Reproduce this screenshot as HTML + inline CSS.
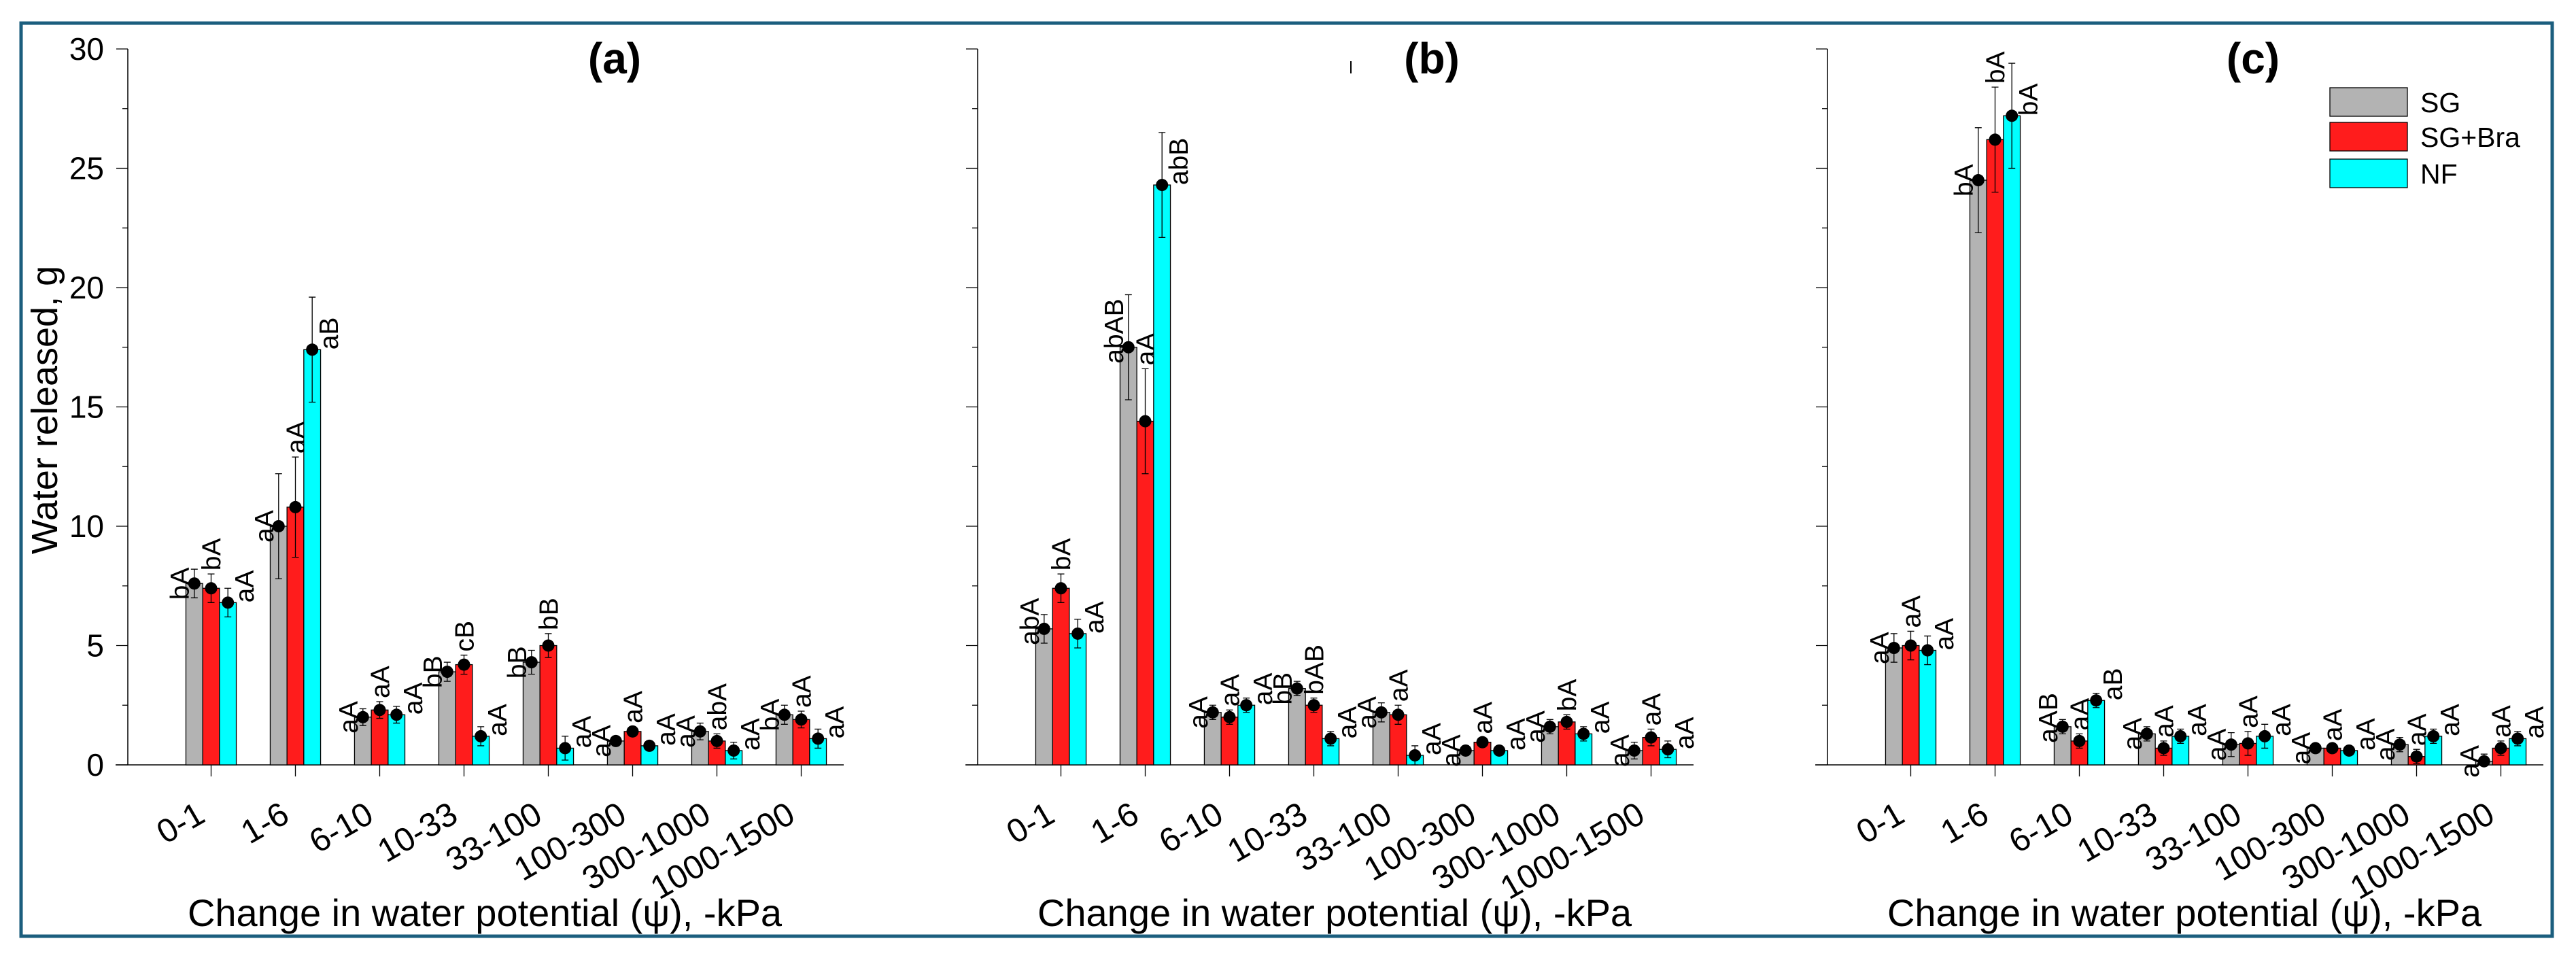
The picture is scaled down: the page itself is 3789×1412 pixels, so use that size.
<!DOCTYPE html>
<html><head><meta charset="utf-8">
<style>
html,body{margin:0;padding:0;background:#fff;}
svg{display:block;}
text{font-family:"Liberation Sans",Arial,sans-serif;fill:#000;}
</style></head>
<body>
<svg id="chart" width="3789" height="1412" viewBox="0 0 3789 1412" xmlns="http://www.w3.org/2000/svg">
<rect x="31" y="34" width="3723" height="1343" fill="none" stroke="#1b5e7e" stroke-width="5"/>
<line x1="1987" y1="90" x2="1987" y2="108" stroke="#000" stroke-width="2"/>
<line x1="3339" y1="100" x2="3339" y2="118" stroke="#000" stroke-width="2"/>
</svg>
<script>
const categories = ["0-1","1-6","6-10","10-33","33-100","100-300","300-1000","1000-1500"];
const seriesNames = ["SG","SG+Bra","NF"];
const seriesColors = ["#b3b3b3","#ff1c1c","#00ffff"];
const yTicks = [0,5,10,15,20,25,30];
const panelTitles = ["(a)","(b)","(c)"];

const aSG  = [7.6,10.0,2.0,3.9,4.3,1.0,1.4,2.1];
const aBra = [7.4,10.8,2.3,4.2,5.0,1.4,1.0,1.9];
const aNF  = [6.8,17.4,2.1,1.2,0.7,0.8,0.6,1.1];
const aErrSG  = [0.6,2.2,0.35,0.4,0.5,0.2,0.35,0.4];
const aErrBra = [0.6,2.1,0.35,0.4,0.5,0.2,0.3,0.35];
const aErrNF  = [0.6,2.2,0.35,0.4,0.5,0.2,0.35,0.4];
const aLabSG  = ["bA","aA","aA","bB","bB","aA","aA","bA"];
const aLabBra = ["bA","aA","aA","cB","bB","aA","abA","aA"];
const aLabNF  = ["aA","aB","aA","aA","aA","aA","aA","aA"];

const bSG  = [5.7,17.5,2.2,3.2,2.2,0.6,1.6,0.6];
const bBra = [7.4,14.4,2.0,2.5,2.1,0.95,1.8,1.15];
const bNF  = [5.5,24.3,2.5,1.1,0.4,0.6,1.3,0.65];
const bErrSG  = [0.6,2.2,0.3,0.3,0.4,0.2,0.3,0.35];
const bErrBra = [0.6,2.2,0.3,0.3,0.4,0.2,0.3,0.35];
const bErrNF  = [0.6,2.2,0.3,0.3,0.4,0.2,0.3,0.35];
const bLabSG  = ["abA","abAB","aA","bB","aA","aA","aA","aA"];
const bLabBra = ["bA","aA","aA","bAB","aA","aA","bA","aA"];
const bLabNF  = ["aA","abB","aA","aA","aA","aA","aA","aA"];

const cSG  = [4.9,24.5,1.6,1.3,0.85,0.7,0.85,0.15];
const cBra = [5.0,26.2,1.0,0.7,0.9,0.7,0.35,0.7];
const cNF  = [4.8,27.2,2.7,1.2,1.2,0.6,1.2,1.1];
const cErrSG  = [0.6,2.2,0.3,0.3,0.5,0.15,0.3,0.3];
const cErrBra = [0.6,2.2,0.3,0.3,0.5,0.15,0.3,0.3];
const cErrNF  = [0.6,2.2,0.3,0.3,0.5,0.15,0.3,0.3];
const cLabSG  = ["aA","bA","aAB","aA","aA","aA","aA","aA"];
const cLabBra = ["aA","bA","aA","aA","aA","aA","aA","aA"];
const cLabNF  = ["aA","bA","aB","aA","aA","aA","aA","aA"];

const panels = [
  {vals:[aSG,aBra,aNF], errs:[aErrSG,aErrBra,aErrNF], labs:[aLabSG,aLabBra,aLabNF]},
  {vals:[bSG,bBra,bNF], errs:[bErrSG,bErrBra,bErrNF], labs:[bLabSG,bLabBra,bLabNF]},
  {vals:[cSG,cBra,cNF], errs:[cErrSG,cErrBra,cErrNF], labs:[cLabSG,cLabBra,cLabNF]}
];

const NS = "http://www.w3.org/2000/svg";
const svg = document.getElementById("chart");
function mk(tag, attrs, parent){
  const e = document.createElementNS(NS, tag);
  for (const k in attrs) e.setAttribute(k, attrs[k]);
  (parent||svg).appendChild(e);
  return e;
}
const Y0 = 1125, Y30 = 72;
function yScale(v){ return Y0 - (v/30)*(Y0-Y30); }
const BW = 24.7;

panels.forEach((p, pi) => {
  const off = pi*1250;
  const ax = off + 188;
  const xEnd = off + 1241;
  function xCat(i){ return ax + 122.5 + 124*i; }
  const g = mk("g", {});
  
  
  const yl = mk("line", {x1:ax, y1:Y30, x2:ax, y2:Y0, stroke:"#000", "stroke-width":1.5}, g);
  
  
  const xl = mk("line", {x1:off+170, y1:Y0, x2:xEnd, y2:Y0, stroke:"#000", "stroke-width":1.5}, g);
  
  
  for (let v=0; v<=30; v+=2.5){
    const major = (v%5===0);
    const t = mk("line", {x1:ax-(major?17:8), y1:yScale(v), x2:ax, y2:yScale(v), stroke:"#000", "stroke-width":1.3}, g);
    
    
  }
  if (pi===0){
    yTicks.forEach(v => {
      const t = mk("text", {x:ax-35, y:yScale(v)+16, "text-anchor":"end", "font-size":46}, g);
      t.textContent = v;
      
      
    });
    const yt = mk("text", {x:0, y:0, transform:"translate(84,603) rotate(-90)", "text-anchor":"middle", "font-size":54}, g);
    yt.textContent = "Water released, g";
    
    
  }
  categories.forEach((c, i) => {
    const cx = xCat(i);
    const t = mk("line", {x1:cx, y1:Y0, x2:cx, y2:Y0+17, stroke:"#000", "stroke-width":1.3}, g);
    
    
    const lb = mk("text", {x:0, y:0, transform:`translate(${cx-6},${Y0+82}) rotate(-30)`, "text-anchor":"end", "font-size":49}, g);
    lb.textContent = c;
    
    
  });
  const xt = mk("text", {x:off+713, y:1362, "text-anchor":"middle", "font-size":56}, g);
  xt.textContent = "Change in water potential (\u03c8), -kPa";
  
  
  const tt = mk("text", {x:[904,856,814][pi]+off, y:108, "text-anchor":"middle", "font-size":64, "font-weight":"bold"}, g);
  tt.textContent = panelTitles[pi];
  
  

  p.vals.forEach((arr, si) => {
    arr.forEach((v, i) => {
      const bx = xCat(i) + (si-1)*BW;
      const yv = yScale(v);
      const r = mk("rect", {x:bx-BW/2, y:yv, width:BW, height:Y0-yv, fill:seriesColors[si], stroke:"#000", "stroke-width":1.3}, g);
      
      
      const e = p.errs[si][i];
      const yt2 = yScale(v+e), yb = yScale(Math.max(0,v-e));
      const eb = mk("path", {d:`M${bx},${yt2}V${yb}M${bx-5},${yt2}H${bx+5}M${bx-5},${yb}H${bx+5}`, stroke:"#000", "stroke-width":1.3, fill:"none"}, g);
      
      
      const d = mk("circle", {cx:bx, cy:yv, r:9, fill:"#000"}, g);
      
      
      let lx, ly;
      if (si===0){ lx = bx-22; ly = yv+24; }
      else if (si===1){ lx = bx; ly = yt2-5; }
      else { lx = bx+24; ly = yv; }
      const lt = mk("text", {x:0, y:0, transform:`translate(${lx+14},${ly}) rotate(-90)`, "text-anchor":"start", "font-size":39}, g);
      lt.textContent = p.labs[si][i];
      
      
    });
  });
});

const lg = mk("g", {});


const legY = [129,180,234];
seriesNames.forEach((n, i) => {
  const r = mk("rect", {x:3427, y:legY[i], width:114, height:42, fill:seriesColors[i], stroke:"#000", "stroke-width":1.3}, lg);
  
  
  const t = mk("text", {x:3560, y:legY[i]+36, "font-size":41}, lg);
  t.textContent = n;
  
  
});
</script>
</body></html>
